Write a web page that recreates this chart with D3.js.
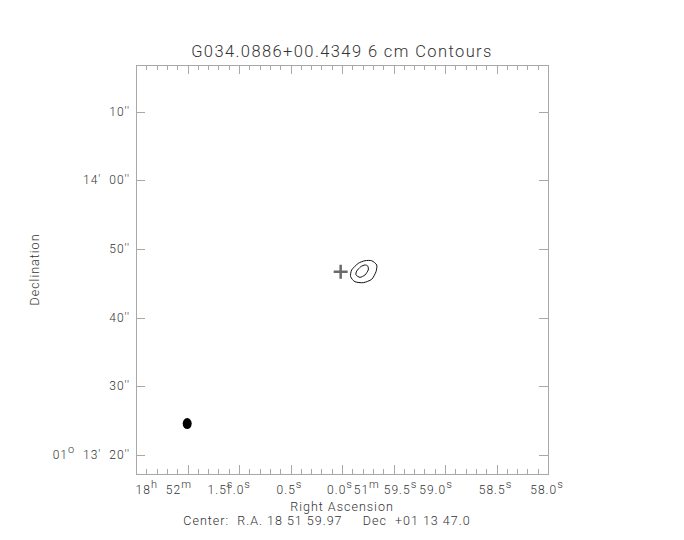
<!DOCTYPE html>
<html>
<head>
<meta charset="utf-8">
<script src="https://cdn.jsdelivr.net/npm/d3@7"></script>
<style>
  body { margin: 0; background: #fff; }
  svg text { font-family: Roboto, "DejaVu Sans", sans-serif; font-weight: 300; fill: #333; letter-spacing: 1px; }
</style>
</head>
<body>
<div class="box"></div>
<script>
// RA in seconds past 18h 51m, Dec in arcsec past +01 13' 00"
var raDomain = [62.0, 58.0];
var decDomain = [17.2, 76.8];

var raMajor = [62.0, 61.5, 61.0, 60.5, 60.0, 59.5, 59.0, 58.5, 58.0];
var raMinorStep = 0.1;

// tick labels: [text, superscript] pairs
var raLabelAt = [61.5, 61.0, 60.5, 60.0, 59.5, 59.0, 58.5, 58.0];
var raLabelParts = [
	[['18', 'h'], ['  52', 'm'], ['    1.5', 's']],
	[['1.0', 's']],
	[['0.5', 's']],
	[['0.0', 's']],
	[['51', 'm'], [' 59.5', 's']],
	[['59.0', 's']],
	[['58.5', 's']],
	[['58.0', 's']]
];

var decTicks = [20, 30, 40, 50, 60, 70];
var decLabelParts = [
	[['01', 'o'], ['  13\'  20\'\'', '']],
	[['30\'\'', '']],
	[['40\'\'', '']],
	[['50\'\'', '']],
	[['14\'  00\'\'', '']],
	[['10\'\'', '']]
];

// contour levels (RA s, Dec ")
var outerRA  = [59.712, 59.663, 59.670, 59.712, 59.793, 59.874, 59.916, 59.906, 59.842, 59.777];
var outerDec = [48.28, 47.66, 46.68, 45.57, 45.08, 45.22, 45.95, 46.93, 47.90, 48.28];
var innerRA  = [59.750, 59.745, 59.777, 59.825, 59.864, 59.857, 59.818, 59.777];
var innerDec = [47.51, 46.93, 46.20, 45.86, 46.20, 46.78, 47.41, 47.66];

var source = {ra: 60.013, dec: 46.68};
var beam = {ra: 61.503, dec: 24.55, bmaj: 1.6, bmin: 1.31};

var title = 'G034.0886+00.4349 6 cm Contours';
var xTitle = 'Right Ascension';
var yTitle = 'Declination';
var footer = 'Center:  R.A. 18 51 59.97     Dec  +01 13 47.0';

function nb(s) { return s.replace(/ /g, '\u00a0'); }

function drawMap()
{
	var width = 684, height = 540;
	var left = 136, right = 548, top = 65, bottom = 474;

	// label nudges, the way IDL centred them
	var raLabelNudge = [-3, -1, -1, -2, -8, -9, -1, -1];

	var svg = d3.select('.box')
		.append('svg')
		.attr('width', width)
		.attr('height', height);

	var x = d3.scaleLinear().domain(raDomain).range([left, right]);
	var y = d3.scaleLinear().domain(decDomain).range([bottom, top]);
	var pxPerArcsec = (bottom - top) / (decDomain[1] - decDomain[0]);

	var frameColor = '#a8a8a8';

	svg.append('rect')
		.attr('x', left + 0.5)
		.attr('y', top + 0.5)
		.attr('width', right - left)
		.attr('height', bottom - top)
		.style('fill', 'none')
		.style('stroke', frameColor)
		.style('stroke-width', 1);

	// RA ticks, bottom and top
	var minor = d3.range(Math.round((raDomain[0] - raDomain[1]) / raMinorStep) + 1)
		.map(function(i) { return raDomain[1] + i * raMinorStep; });

	var raTicks = minor.map(function(v) {
		var major = raMajor.some(function(m) { return Math.abs(m - v) < 1e-6; });
		return {v: v, len: major ? 9 : 5};
	});

	[[bottom, -1], [top, 1]].forEach(function(side) {
		svg.selectAll(null)
			.data(raTicks)
			.enter()
			.append('line')
				.attr('x1', function(d) { return Math.round(x(d.v)) + 0.5; })
				.attr('x2', function(d) { return Math.round(x(d.v)) + 0.5; })
				.attr('y1', side[0])
				.attr('y2', function(d) { return side[0] + side[1] * d.len; })
				.style('stroke', frameColor);
	});

	// Dec ticks, left and right
	[[left, 1], [right, -1]].forEach(function(side) {
		svg.selectAll(null)
			.data(decTicks)
			.enter()
			.append('line')
				.attr('y1', function(d) { return Math.round(y(d)) + 0.5; })
				.attr('y2', function(d) { return Math.round(y(d)) + 0.5; })
				.attr('x1', side[0])
				.attr('x2', side[0] + side[1] * 9)
				.style('stroke', frameColor);
	});

	function addParts(sel, parts) {
		var back = 0;
		parts.forEach(function(p) {
			sel.append('tspan').attr('dy', back).text(nb(p[0]));
			back = 0;
			if (p[1]) {
				sel.append('tspan')
					.attr('dy', -6)
					.style('font-size', '11px')
					.text(p[1]);
				back = 6;
			}
		});
	}

	raLabelAt.forEach(function(v, i) {
		var t = svg.append('text')
			.attr('x', x(v) + raLabelNudge[i])
			.attr('y', 494)
			.attr('text-anchor', 'middle')
			.style('font-size', '12px');
		addParts(t, raLabelParts[i]);
	});

	decTicks.forEach(function(v, i) {
		var t = svg.append('text')
			.attr('x', left - 6)
			.attr('y', y(v) + 4)
			.attr('text-anchor', 'end')
			.style('font-size', '12px');
		addParts(t, decLabelParts[i]);
	});

	svg.append('text')
		.attr('x', (left + right) / 2)
		.attr('y', 57)
		.attr('text-anchor', 'middle')
		.style('font-size', '16.5px')
		.style('letter-spacing', '1.4px')
		.text(title);

	svg.append('text')
		.attr('x', (left + right) / 2)
		.attr('y', 511)
		.attr('text-anchor', 'middle')
		.style('font-size', '12.5px')
		.text(xTitle);

	svg.append('text')
		.attr('x', 327)
		.attr('y', 525)
		.attr('text-anchor', 'middle')
		.style('font-size', '12.5px')
		.text(nb(footer));

	svg.append('text')
		.attr('transform', 'translate(39,' + ((top + bottom) / 2) + ') rotate(-90)')
		.attr('text-anchor', 'middle')
		.style('font-size', '12.5px')
		.text(yTitle);

	// contours
	var line = d3.line()
		.x(function(d) { return x(d[0]); })
		.y(function(d) { return y(d[1]); })
		.curve(d3.curveCardinalClosed.tension(0.3));

	[[outerRA, outerDec], [innerRA, innerDec]].forEach(function(c) {
		svg.append('path')
			.datum(d3.zip(c[0], c[1]))
			.attr('d', line)
			.style('fill', 'none')
			.style('stroke', '#111')
			.style('stroke-width', 1);
	});

	// source position marker
	var sx = x(source.ra), sy = y(source.dec);
	svg.append('path')
		.attr('d', 'M' + (sx - 7) + ',' + sy + 'H' + (sx + 7) + 'M' + sx + ',' + (sy - 7) + 'V' + (sy + 7))
		.style('stroke', '#6a6a6a')
		.style('stroke-width', 2.5);

	// beam
	svg.append('ellipse')
		.attr('cx', x(beam.ra))
		.attr('cy', y(beam.dec))
		.attr('rx', beam.bmin / 2 * pxPerArcsec)
		.attr('ry', beam.bmaj / 2 * pxPerArcsec)
		.style('fill', '#000');
}

drawMap();
</script>
</body>
</html>
